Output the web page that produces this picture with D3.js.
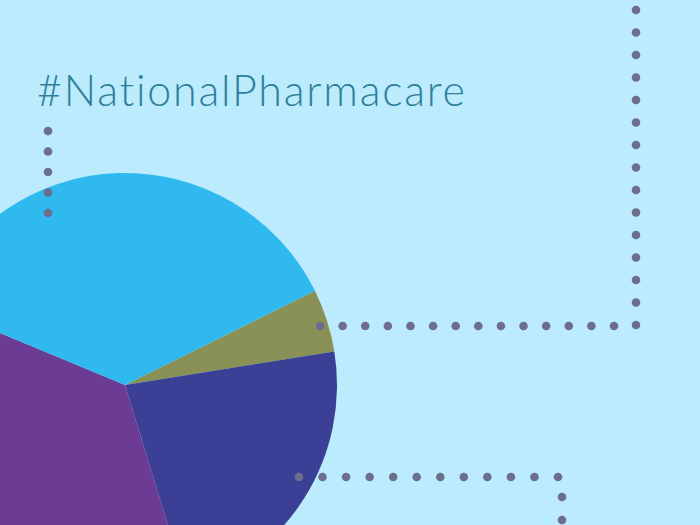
<!DOCTYPE html>
<html>
<head>
<meta charset="utf-8">
<script src="https://cdn.jsdelivr.net/npm/d3@7"></script>
<style>
  html, body { margin: 0; padding: 0; background: #bbebfc; }
  svg { display: block; }
</style>
</head>
<body>
<svg id="chart" width="700" height="525"></svg>
<script>
// Data
const categories = ["Olive", "Dark blue", "Purple", "Light blue"];
const values = [4.8, 22.8, 36.0, 36.4];
const colors = ["#8a9156", "#3b3f96", "#6c3b93", "#2fb9ef"];
const title = "#NationalPharmacare";

const svg = d3.select("#chart");
svg.append("rect").attr("width", 700).attr("height", 525).attr("fill", "#bbebfc");

const cx = 125, cy = 385, R = 212;
const pie = d3.pie().sort(null).value(d => d)
  .startAngle(63.6 * Math.PI / 180)
  .endAngle((63.6 + 360) * Math.PI / 180);
const arc = d3.arc().innerRadius(0).outerRadius(R);

const g = svg.append("g").attr("transform", `translate(${cx},${cy})`);
g.selectAll("path").data(pie(values)).join("path")
  .attr("d", arc)
  .attr("fill", (d, i) => colors[i]);

// Title
svg.append("text")
  .attr("x", 37).attr("y", 106)
  .attr("font-family", "Lato, 'Open Sans', sans-serif")
  .attr("font-weight", 300)
  .attr("font-size", 43)
  .attr("fill", "#2e7f9b")
  .style("font-variant-ligatures", "none")
  .style("font-feature-settings", "'liga' 0, 'clig' 0, 'dlig' 0")
  .attr("textLength", 428).attr("lengthAdjust", "spacing")
  .text(title);

// Dotted decorative lines
function dotLine(x0, y0, x1, y1, n) {
  const pts = d3.range(n).map(i => [x0 + (x1 - x0) * i / (n - 1), y0 + (y1 - y0) * i / (n - 1)]);
  svg.append("g").selectAll("circle").data(pts).join("circle")
    .attr("cx", d => d[0]).attr("cy", d => d[1]).attr("r", 4.3)
    .attr("fill", "#6c6e8c");
}
dotLine(636, 10, 636, 325, 15);
dotLine(320, 326, 614, 326, 14);
dotLine(48, 131, 48, 213, 5);
dotLine(299, 477, 558, 477, 12);
dotLine(562, 497, 562, 543, 3);
</script>
</body>
</html>
